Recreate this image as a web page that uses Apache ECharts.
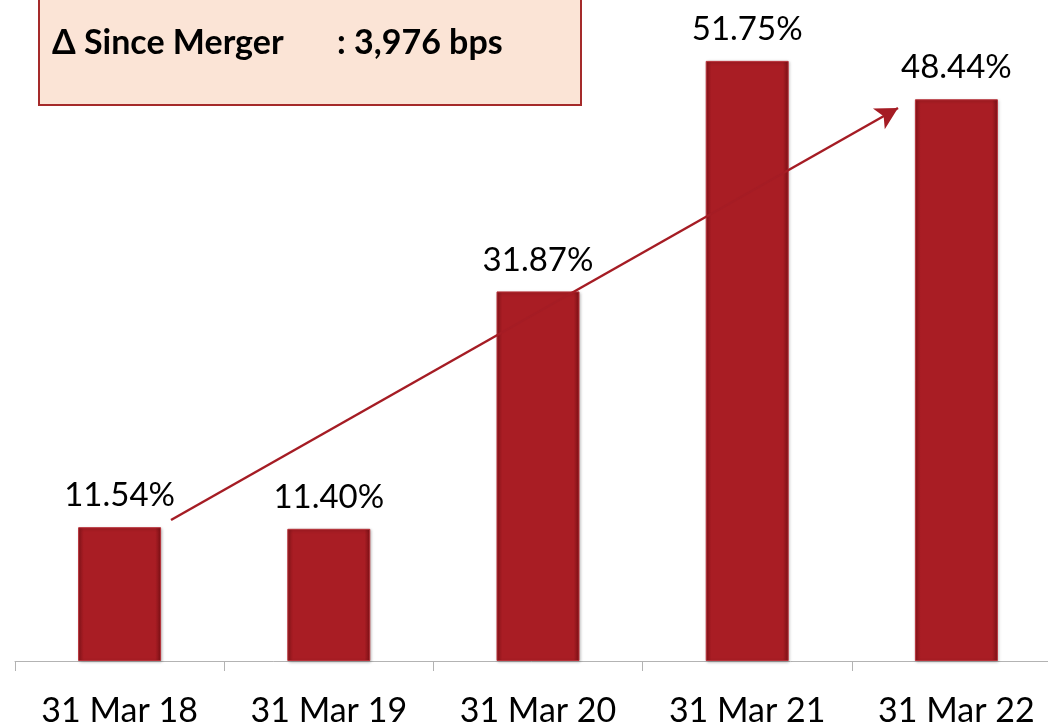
<!DOCTYPE html>
<html>
<head>
<meta charset="utf-8">
<script src="https://cdn.jsdelivr.net/npm/echarts@6/dist/echarts.min.js"></script>
<style>
  html, body { margin: 0; padding: 0; background: #fff; }
  #chart { width: 1048px; height: 724px; }
</style>
</head>
<body>
<div id="chart"></div>
<script>
const categories = ['31 Mar 18', '31 Mar 19', '31 Mar 20', '31 Mar 21', '31 Mar 22']
const ratios = [11.54, 11.40, 31.87, 51.75, 48.44]
const boxTitle = 'Δ Since Merger'
const boxValue = ': 3,976 bps'

const chart = echarts.init(document.getElementById('chart'))

const barColor = new echarts.graphic.LinearGradient(0, 0, 1, 0, [
  { offset: 0, color: '#8c151b' },
  { offset: 0.07, color: '#a91d24' },
  { offset: 0.93, color: '#a91d24' },
  { offset: 1, color: '#7a1015' }
])

const option = {
  animation: false,
  textStyle: { fontFamily: 'Lato' },
  grid: { left: 15, right: -13, top: 0, bottom: 63, outerBoundsMode: 'none' },
  xAxis: {
    type: 'category',
    data: categories,
    axisLine: { lineStyle: { color: '#b3b3b3', width: 1 } },
    axisTick: { show: true, length: 10, lineStyle: { color: '#b3b3b3' } },
    axisLabel: { color: '#000', fontSize: 34, margin: 33, fontFamily: 'Lato' }
  },
  yAxis: {
    type: 'value',
    min: 0,
    max: 57,
    show: false,
    splitLine: { show: false }
  },
  series: [
    {
      type: 'bar',
      data: ratios,
      barWidth: 83,
      itemStyle: {
        color: barColor,
        borderColor: '#b8323a',
        borderWidth: 1,
        shadowColor: 'rgba(0,0,0,0.25)',
        shadowBlur: 3,
        shadowOffsetX: 1,
        shadowOffsetY: 1
      },
      label: {
        show: true,
        position: 'top',
        distance: 15,
        color: '#000',
        fontSize: 33,
        fontFamily: 'Lato',
        formatter: (p) => p.value.toFixed(2) + '%'
      },
      markLine: {
        silent: true,
        symbol: ['none', 'arrow'],
        symbolSize: [18, 22],
        label: { show: false },
        lineStyle: { color: '#a51c24', width: 2.5, type: 'solid' },
        data: [[{ x: 171, y: 520 }, { x: 898, y: 108 }]]
      }
    }
  ],
  graphic: [
    {
      type: 'rect',
      shape: { x: 39, y: -5, width: 542, height: 110 },
      style: { fill: '#fbe4d6', stroke: '#a52a2a', lineWidth: 2 }
    },
    {
      type: 'text',
      left: 52,
      top: 26,
      style: { text: boxTitle, font: 'bold 34px Lato', fill: '#000' }
    },
    {
      type: 'text',
      left: 337,
      top: 26,
      style: { text: boxValue, font: 'bold 34px Lato', fill: '#000' }
    }
  ]
}

option && chart.setOption(option)
</script>
</body>
</html>
